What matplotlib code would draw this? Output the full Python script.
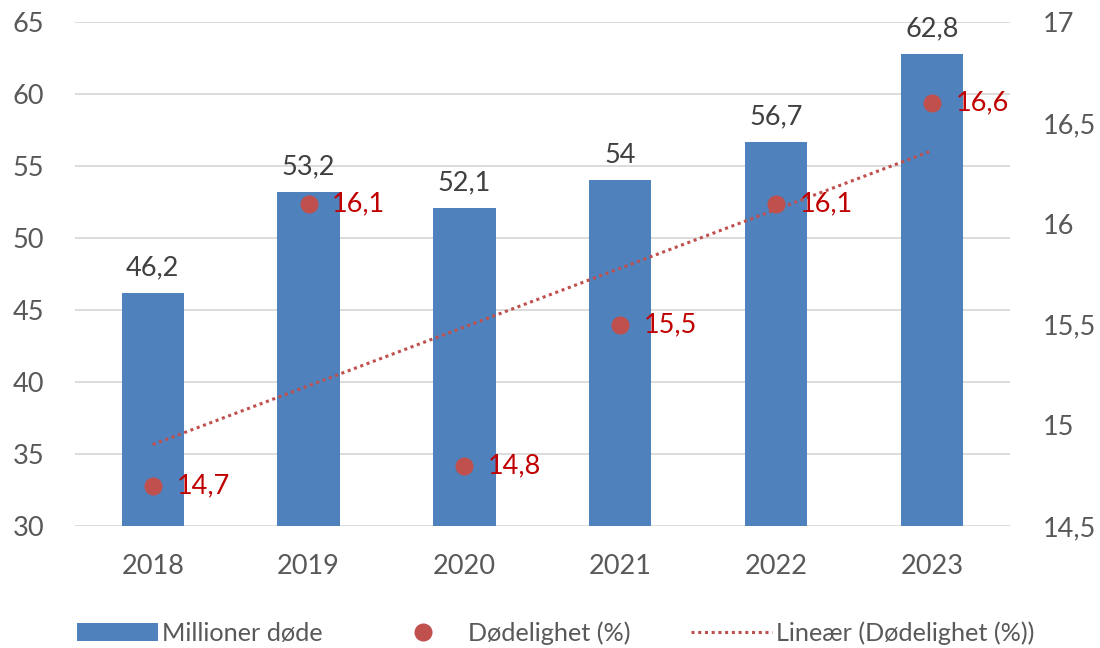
import numpy as np
import matplotlib.pyplot as plt
from matplotlib.lines import Line2D
from matplotlib.patches import Patch

plt.rcParams['font.family'] = ['Lato', 'DejaVu Sans']

# data
years = ['2018', '2019', '2020', '2021', '2022', '2023']
deaths_mill = [46.2, 53.2, 52.1, 54.0, 56.7, 62.8]
mortality_pct = [14.7, 16.1, 14.8, 15.5, 16.1, 16.6]

bar_color = '#4F81BD'
dot_color = '#C0504D'
label_red = '#C00000'
text_grey = '#595959'
grid_grey = '#D9D9D9'


def comma(v):
    s = f'{v:g}'
    return s.replace('.', ',')


fig = plt.figure(figsize=(11, 6.48), dpi=100)
ax = fig.add_axes([0.068, 0.188, 0.85, 0.778])
ax2 = ax.twinx()

x = np.arange(len(years))

# bars on left axis
ax.bar(x, deaths_mill, width=0.4, color=bar_color, zorder=2)
ax.set_ylim(30, 65)
ax.set_yticks(np.arange(30, 66, 5))
ax.set_xlim(-0.5, len(years) - 0.5)
ax.set_xticks(x)
ax.set_xticklabels(years)
ax.yaxis.grid(True, color=grid_grey, linewidth=1.3, zorder=0)
ax.set_axisbelow(True)
for v, xi in zip(deaths_mill, x):
    ax.annotate(comma(v), (xi, v), xytext=(0, 9), textcoords='offset points',
                ha='center', va='bottom', fontsize=19.5, color='#404040')

# dots + trend on right axis
ax2.set_ylim(14.5, 17)
ax2.set_yticks(np.arange(14.5, 17.01, 0.5))
ax2.set_yticklabels([comma(t) for t in np.arange(14.5, 17.01, 0.5)])
ax2.plot(x, mortality_pct, 'o', color=dot_color, markersize=12, zorder=4)
coef = np.polyfit(x, mortality_pct, 1)
ax2.plot(x, np.polyval(coef, x), linestyle=(0, (1, 1.2)), color=dot_color,
         linewidth=2.2, zorder=3)
for v, xi in zip(mortality_pct, x):
    ax2.annotate(comma(v), (xi, v), xytext=(17, 0), textcoords='offset points',
                 ha='left', va='center', fontsize=19.5, color=label_red)

for a in (ax, ax2):
    for s in a.spines.values():
        s.set_visible(False)
    a.tick_params(length=0, labelsize=19.5, colors=text_grey)
ax.tick_params(axis='y', pad=22)
ax.tick_params(axis='x', pad=20)
ax2.tick_params(axis='y', pad=24)

handles = [
    Patch(facecolor=bar_color, edgecolor='none'),
    Line2D([], [], marker='o', linestyle='none', color=dot_color, markersize=12),
    Line2D([], [], linestyle=(0, (1, 1.2)), color=dot_color, linewidth=2.2),
]
labels = ['Millioner døde', 'Dødelighet (%)', 'Lineær (Dødelighet (%))']
fig.legend(handles, labels, loc='lower center', bbox_to_anchor=(0.505, -0.03),
           ncol=3, frameon=False, fontsize=18.2, labelcolor=text_grey,
           handlelength=3.2, handleheight=0.7, columnspacing=2.4, handletextpad=0.15)

fig.savefig('out.png', dpi=100)
